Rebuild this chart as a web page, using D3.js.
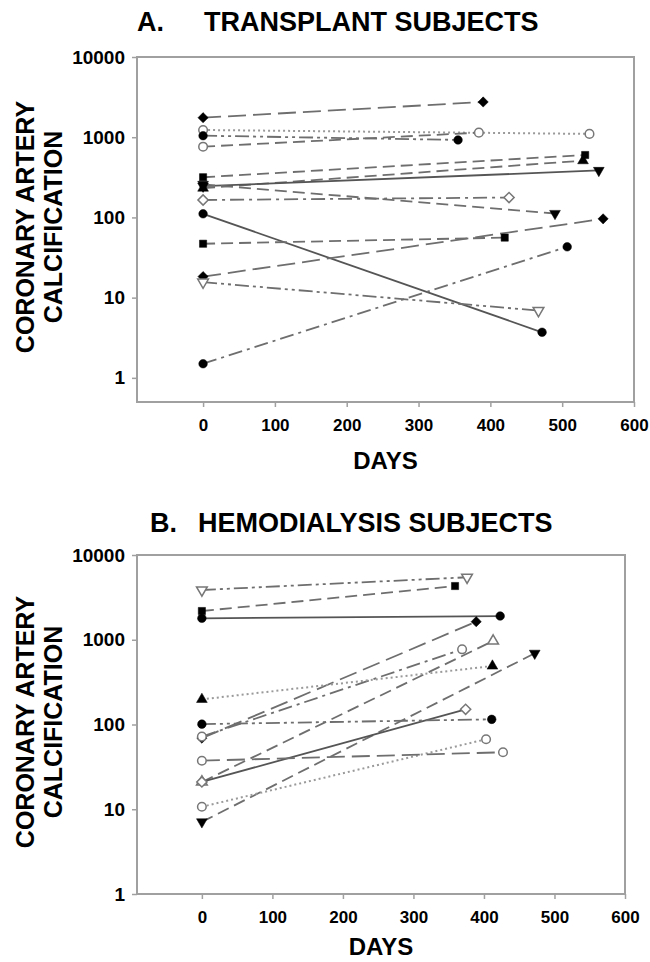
<!DOCTYPE html>
<html>
<head>
<meta charset="utf-8">
<script src="https://cdn.jsdelivr.net/npm/d3@7"></script>
<style>
  body { margin: 0; background: #fff; }
  text { font-family: "Liberation Sans", Arial, sans-serif; font-weight: bold; fill: #000; }
</style>
</head>
<body>
<svg width="650" height="962"></svg>
<script>
// ---- data (days from baseline, coronary artery calcification score) ----
var dayTicks = [0, 100, 200, 300, 400, 500, 600];
var cacTicks = [1, 10, 100, 1000, 10000];

// A. transplant subjects: one entry per subject, [baseline, follow-up]
var transplantDays = [
  [0, 390], [0, 538], [0, 355], [0, 384], [0, 532], [0, 529], [0, 551],
  [0, 490], [0, 426], [0, 472], [0, 420], [0, 557], [0, 467], [0, 507]
];
var transplantCac = [
  [1750, 2750], [1230, 1100], [1045, 925], [762, 1140], [317, 600], [232, 510], [245, 385],
  [258, 112], [165, 177], [111, 3.7], [47, 56], [18.3, 96], [15.6, 6.9], [1.5, 43]
];

// B. hemodialysis subjects
var dialysisDays = [
  [0, 376], [0, 359], [0, 423], [0, 389], [0, 369], [0, 413],
  [0, 412], [0, 472], [0, 374], [0, 411], [0, 403], [0, 427]
];
var dialysisCac = [
  [3865, 5460], [2183, 4305], [1790, 1905], [69, 1633], [72, 771], [21, 967],
  [198, 490], [7.1, 692], [21, 151], [101, 115], [10.7, 67], [37.4, 47]
];

// ---- styles (marker shape, open/filled, line pattern) ----
var transplantMarker = ["diamond", "circle", "circle", "circle", "square", "up", "down",
                        "down", "diamond", "circle", "square", "diamond", "down", "circle"];
var transplantOpen = [false, true, false, true, false, false, false,
                      false, true, false, false, false, true, false];
var transplantDash = ["long", "dot", "dashdotdot", "dash", "dash", "dash", "solid",
                      "dash", "dashdot", "solid", "dash", "long", "dashdotdot", "dashdot"];

var dialysisMarker = ["down", "square", "circle", "diamond", "circle", "up",
                      "up", "down", "diamond", "circle", "circle", "circle"];
var dialysisOpen = [true, false, false, false, true, true,
                    false, false, true, false, true, true];
var dialysisDash = ["dashdotdot", "dash", "solid", "long", "dashdot", "dash",
                    "dot", "dash", "solid", "dashdotdot", "dot", "long"];

var dashes = {
  solid: null,
  long: "18,7",
  dash: "12,6",
  dashdot: "14,5,3,5",
  dashdotdot: "14,4,3,4,3,4",
  dot: "2,3"
};
var lineColour = { solid: "#555", dot: "#9a9a9a" };

var svg = d3.select("svg");

function symbolPath(kind) {
  var s;
  if (kind == "circle") s = d3.symbol().type(d3.symbolCircle).size(58);
  else if (kind == "square") s = d3.symbol().type(d3.symbolSquare).size(52);
  else if (kind == "diamond") s = d3.symbol().type(d3.symbolSquare).size(52);
  else s = d3.symbol().type(d3.symbolTriangle).size(50);
  return s();
}
function symbolRotate(kind) {
  if (kind == "diamond") return 45;
  if (kind == "down") return 180;
  return 0;
}

function drawPanel(p) {
  var g = svg.append("g");

  var x = d3.scaleLinear().domain([-92, 600]).range([137, p.right]);
  var y = d3.scaleLog().domain([p.yMin, 10000]).range([p.bottom, p.top]);

  // frame
  g.append("rect")
    .attr("x", 137).attr("y", p.top)
    .attr("width", p.right - 137).attr("height", p.bottom - p.top)
    .attr("fill", "none").attr("stroke", "#a0a0a0").attr("stroke-width", 2);

  // y axis
  var yAxis = g.append("g")
    .attr("transform", "translate(137,0)")
    .call(d3.axisLeft(y).tickValues(cacTicks).tickFormat(d3.format("d")).tickSize(5).tickPadding(7));
  yAxis.select(".domain").remove();
  yAxis.selectAll("line").attr("stroke", "#a0a0a0").attr("stroke-width", 1.5);
  yAxis.selectAll("text").style("font-size", "19px").attr("fill", "#000");

  // x axis
  var xAxis = g.append("g")
    .attr("transform", "translate(0," + p.bottom + ")")
    .call(d3.axisBottom(x).tickValues(dayTicks).tickSize(5).tickPadding(12));
  xAxis.select(".domain").remove();
  xAxis.selectAll("line").attr("stroke", "#a0a0a0").attr("stroke-width", 1.5);
  xAxis.selectAll("text").style("font-size", "17px").attr("fill", "#000");

  // titles
  g.append("text").attr("x", p.letterX).attr("y", p.titleY)
    .style("font-size", "27px").text(p.letter);
  g.append("text").attr("x", p.nameX).attr("y", p.titleY)
    .style("font-size", "27px").text(p.name);

  g.append("text")
    .attr("x", (137 + p.right) / 2).attr("y", p.daysY)
    .attr("text-anchor", "middle")
    .style("font-size", "24px").text("DAYS");

  var yl = g.append("text")
    .attr("transform", "translate(0," + p.yTitleY + ") rotate(-90)")
    .attr("text-anchor", "middle")
    .style("font-size", "25px");
  yl.append("tspan").attr("x", 0).attr("y", 34).text("CORONARY ARTERY");
  yl.append("tspan").attr("x", 0).attr("y", 62).text("CALCIFICATION");

  var line = d3.line()
    .x(function(d) { return x(d[0]); })
    .y(function(d) { return y(d[1]); });

  // lines
  for (var i = 0; i < p.days.length; i++) {
    var pts = p.days[i].map(function(dd, k) { return [dd, p.cac[i][k]]; });
    var kind = p.dash[i];
    g.append("path")
      .attr("d", line(pts))
      .attr("fill", "none")
      .attr("stroke", lineColour[kind] || "#6e6e6e")
      .attr("stroke-width", kind == "dot" ? 2 : 1.8)
      .attr("stroke-dasharray", dashes[kind]);
  }

  // markers
  for (var i = 0; i < p.days.length; i++) {
    for (var k = 0; k < p.days[i].length; k++) {
      g.append("path")
        .attr("d", symbolPath(p.marker[i]))
        .attr("transform", "translate(" + x(p.days[i][k]) + "," + y(p.cac[i][k]) + ") rotate(" + symbolRotate(p.marker[i]) + ")")
        .attr("fill", p.open[i] ? "#fff" : "#000")
        .attr("stroke", p.open[i] ? "#777" : "#000")
        .attr("stroke-width", p.open[i] ? 1.5 : 0.5);
    }
  }
}

drawPanel({
  top: 57, bottom: 402, right: 634, yMin: 0.5,
  letter: "A.", letterX: 137, name: "TRANSPLANT SUBJECTS", nameX: 204, titleY: 31,
  daysY: 469, yTitleY: 227,
  days: transplantDays, cac: transplantCac,
  marker: transplantMarker, open: transplantOpen, dash: transplantDash
});

drawPanel({
  top: 555, bottom: 894, right: 625, yMin: 1,
  letter: "B.", letterX: 150, name: "HEMODIALYSIS SUBJECTS", nameX: 198, titleY: 532,
  daysY: 955, yTitleY: 722,
  days: dialysisDays, cac: dialysisCac,
  marker: dialysisMarker, open: dialysisOpen, dash: dialysisDash
});
</script>
</body>
</html>
